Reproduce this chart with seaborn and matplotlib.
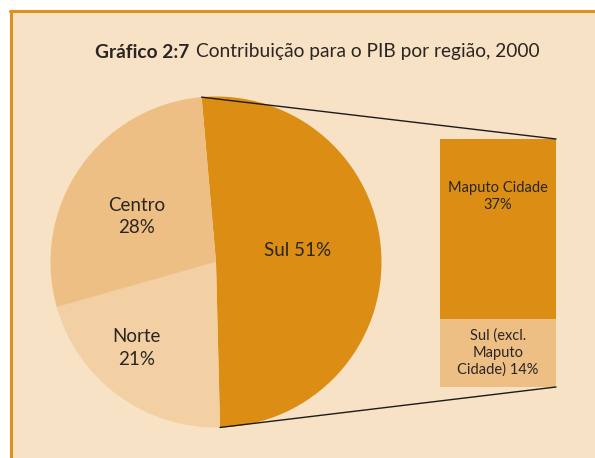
import matplotlib
matplotlib.use("Agg")
import matplotlib.pyplot as plt
import seaborn as sns
import numpy as np
from matplotlib.lines import Line2D
from matplotlib.patches import Rectangle, ConnectionPatch
from matplotlib.offsetbox import TextArea, HPacker, AnnotationBbox

# data
regions = ["Sul", "Norte", "Centro"]
shares = [51, 21, 28]
sul_parts = ["Sul (excl.\nMaputo\nCidade)", "Maputo Cidade"]
sul_values = [14, 37]

title_bold = "Gráfico 2:7"
title_rest = "Contribuição para o PIB por região, 2000"

bg = "#F7E2C6"
c_sul = "#DB8E13"
c_centro = "#EEBF85"
c_norte = "#F3D0A4"
c_border = "#E0901C"
txt = "#2a2522"

sns.set_theme(style="white")
plt.rcParams["font.family"] = ["Lato", "DejaVu Sans"]

W, H = 595, 458
fig = plt.figure(figsize=(W / 100, H / 100), dpi=100, facecolor="white")

# framed panel
fig.add_artist(Rectangle((10 / W, 0), 1 - 10 / W, 1 - 10 / H,
                         transform=fig.transFigure, facecolor=bg, edgecolor="none", zorder=0))
fig.add_artist(Line2D([10.5 / W, 10.5 / W], [0, 1 - 10.5 / H], transform=fig.transFigure,
                      color=c_border, lw=2.2, zorder=1))
fig.add_artist(Line2D([9.5 / W, 1], [1 - 10.5 / H, 1 - 10.5 / H], transform=fig.transFigure,
                      color=c_border, lw=2.2, zorder=1))

# title (bold + regular on one line)
t1 = TextArea(title_bold, textprops=dict(fontsize=13.8, fontweight="bold", color=txt))
t2 = TextArea(title_rest, textprops=dict(fontsize=13.8, color=txt))
box = HPacker(children=[t1, t2], align="baseline", pad=0, sep=5)
fig.add_artist(AnnotationBbox(box, (317 / W, 1 - 52 / H), xycoords="figure fraction",
                              frameon=False, box_alignment=(0.5, 0.5)))

# pie
cx, cy, r = 216, 262, 165.5
ax_pie = fig.add_axes([(cx - r) / W, (H - cy - r) / H, 2 * r / W, 2 * r / H])
ax_pie.set_facecolor("none")
wedges, _ = ax_pie.pie(shares, colors=[c_sul, c_norte, c_centro], startangle=95,
                       counterclock=False, wedgeprops=dict(linewidth=0))
ax_pie.set_xlim(-1, 1)
ax_pie.set_ylim(-1, 1)
ax_pie.axis("off")

ax_pie.text(0.495, 0.07, f"{regions[0]} {shares[0]}%", ha="center", va="center",
            fontsize=13.5, color=txt)
ax_pie.text(-0.48, -0.52, f"{regions[1]}\n{shares[1]}%", ha="center", va="center",
            fontsize=13.5, color=txt, linespacing=1.4)
ax_pie.text(-0.48, 0.275, f"{regions[2]}\n{shares[2]}%", ha="center", va="center",
            fontsize=13.5, color=txt, linespacing=1.4)

# stacked bar for Sul breakdown
bx0, bx1, by0, by1 = 440, 556, 139, 387
ax_bar = fig.add_axes([bx0 / W, (H - by1) / H, (bx1 - bx0) / W, (by1 - by0) / H])
ax_bar.set_facecolor("none")
total = sum(sul_values)
sns.barplot(x=["Sul"], y=[total], color=c_sul, width=1, saturation=1, linewidth=0, ax=ax_bar)
sns.barplot(x=["Sul"], y=[sul_values[0]], color=c_centro, width=1, saturation=1,
            linewidth=0, ax=ax_bar)
ax_bar.set_xlim(-0.5, 0.5)
ax_bar.set_ylim(0, total)
ax_bar.axis("off")

ax_bar.text(0, sul_values[0] + sul_values[1] * 0.68, f"{sul_parts[1]}\n{sul_values[1]}%",
            ha="center", va="center", fontsize=10.5, color=txt, linespacing=1.25)
ax_bar.text(0, sul_values[0] / 2, f"{sul_parts[0]} {sul_values[0]}%",
            ha="center", va="center", fontsize=10.5, color=txt, linespacing=1.25)

# connector lines from Sul wedge edges to bar corners
sul = wedges[0]
for ang, yb in [(sul.theta2, total), (sul.theta1, 0)]:
    p = (np.cos(np.radians(ang)), np.sin(np.radians(ang)))
    con = ConnectionPatch(xyA=p, coordsA=ax_pie.transData, xyB=(0.5, yb),
                          coordsB=ax_bar.transData, color="#1e1b19", lw=1.0, zorder=5)
    fig.add_artist(con)

fig.savefig("out.png", dpi=100, facecolor=fig.get_facecolor())
